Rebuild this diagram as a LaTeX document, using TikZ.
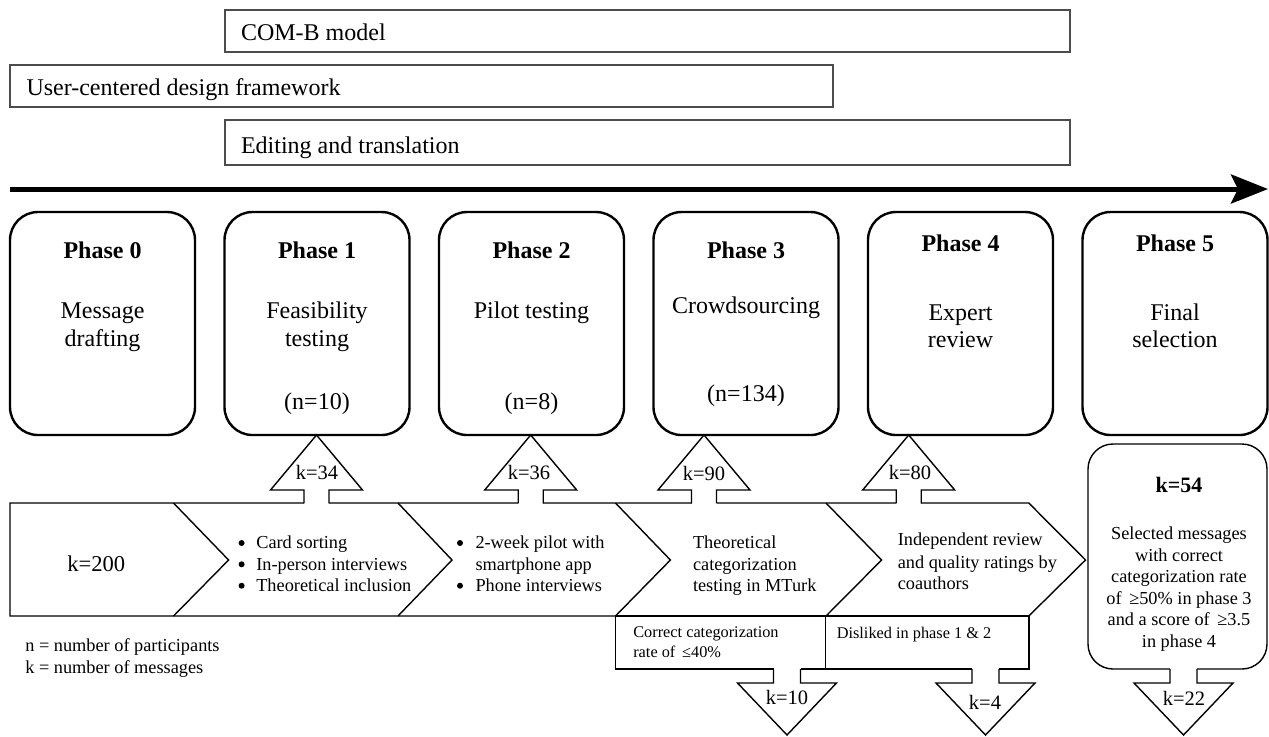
\documentclass[tikz,border=0pt]{standalone}
\usepackage{fontspec}
\setmainfont{Liberation Serif}
\usetikzlibrary{arrows.meta}
\begin{document}
\begin{tikzpicture}[x=0.5pt,y=-0.5pt,
  bar/.style={draw=black!70,line width=0.8pt},
  phasebox/.style={draw=black,line width=1.2pt,rounded corners=14pt},
  shapeline/.style={draw=black,line width=0.7pt},
  txt/.style={inner sep=0pt,outer sep=0pt},
  bul/.style={circle,fill=black,inner sep=0pt,minimum size=3pt},
  fbig/.style={font=\fontsize{12}{14}\selectfont},
  fbold/.style={font=\fontsize{12}{14}\selectfont\bfseries},
  fkbig/.style={font=\fontsize{11.3}{13}\selectfont},
  fkbold/.style={font=\fontsize{11}{13}\selectfont\bfseries},
  fmid/.style={font=\fontsize{9.15}{11}\selectfont},
  fk/.style={font=\fontsize{10.25}{12}\selectfont},
  fsmall/.style={font=\fontsize{8.15}{10}\selectfont},
]
\useasboundingbox (0,0) rectangle (1269,736);

% ---------- top bars ----------
\draw[bar] (225,10) rectangle (1070,52);
\node[txt,fbig,anchor=base west] (comb) at (241,40) {COM-B model};
\draw[bar] (10,65) rectangle (833,107);
\node[txt,fbig,anchor=base west] (ucd) at (26.5,95) {User-centered design framework};
\draw[bar] (225,120) rectangle (1070,165);
\node[txt,fbig,anchor=base west] (edit) at (241,153) {Editing and translation};

% ---------- time arrow ----------
\coordinate (ta) at (10,189);
\coordinate (tb) at (1268,189);
\draw[line width=2.5pt,-{Stealth[length=18.5pt,width=14.5pt,inset=3.5pt]}] (ta) -- (tb);

% ---------- phase boxes ----------
\foreach \l in {10,224.5,439,653.5,868,1082.5}
  \draw[phasebox] (\l,212) rectangle ++(185,223);

\node[txt,fbold,anchor=base] (p0t) at (102.5,258) {Phase 0};
\node[txt,fbig,anchor=base] (p0a) at (102.5,318) {Message};
\node[txt,fbig,anchor=base] (p0b) at (102.5,346.5) {drafting};

\node[txt,fbold,anchor=base] (p1t) at (317,258) {Phase 1};
\node[txt,fbig,anchor=base] (p1a) at (317,318) {Feasibility};
\node[txt,fbig,anchor=base] (p1b) at (317,346.5) {testing};
\node[txt,fbig,anchor=base] (p1n) at (317,409) {(n=10)};

\node[txt,fbold,anchor=base] (p2t) at (531.5,258) {Phase 2};
\node[txt,fbig,anchor=base] (p2a) at (531.5,318) {Pilot testing};
\node[txt,fbig,anchor=base] (p2n) at (531.5,409) {(n=8)};

\node[txt,fbold,anchor=base] (p3t) at (746,258) {Phase 3};
\node[txt,fbig,anchor=base] (p3a) at (746,313) {Crowdsourcing};
\node[txt,fbig,anchor=base] (p3n) at (746,401) {(n=134)};

\node[txt,fbold,anchor=base] (p4t) at (960.5,251.5) {Phase 4};
\node[txt,fbig,anchor=base] (p4a) at (960.5,320) {Expert};
\node[txt,fbig,anchor=base] (p4b) at (960.5,347.5) {review};

\node[txt,fbold,anchor=base] (p5t) at (1175,251.5) {Phase 5};
\node[txt,fbig,anchor=base] (p5a) at (1175,320) {Final};
\node[txt,fbig,anchor=base] (p5b) at (1175,347.5) {selection};

% ---------- chevron band ----------
\draw[shapeline,fill=white] (10,503) -- (1028.8,503) -- (1085.5,560) -- (1028.8,616) -- (10,616) -- cycle;
\foreach \a/\b in {173.5/228.6,398/452,615.5/670.4,826/881.6}
  \draw[shapeline] (\a,503) -- (\b,560) -- (\a,616);

% ---------- bottom boxes ----------
\draw[shapeline] (615.5,616) rectangle (825.7,669);
\draw[shapeline] (825.7,616) rectangle (1028.8,669);
\draw[shapeline,rounded corners=12.5pt] (1088,444) rectangle (1267,669);

% ---------- up arrows ----------
\foreach \cx in {316.5,530.7,704,908.7}{
  \fill[white] (\cx-12.5,489) rectangle (\cx+12.5,505);
  \draw[shapeline] (\cx-12.5,503.3) -- (\cx-12.5,490) -- (\cx-46,490) -- (\cx,435)
     -- (\cx+46,490) -- (\cx+12.5,490) -- (\cx+12.5,503.3);
}
% ---------- down arrows ----------
\foreach \cx in {787,985.5,1183.5}{
  \fill[white] (\cx-13.5,667) rectangle (\cx+13.5,683);
  \draw[shapeline] (\cx-13.5,669) -- (\cx-13.5,683) -- (\cx-49.5,683) -- (\cx,735)
     -- (\cx+49.5,683) -- (\cx+13.5,683) -- (\cx+13.5,669);
}

% ---------- arrow labels ----------
\node[txt,fk,anchor=base] (k34) at (317,479) {k=34};
\node[txt,fk,anchor=base] (k36) at (529,479) {k=36};
\node[txt,fk,anchor=base] (k90) at (704,480) {k=90};
\node[txt,fk,anchor=base] (k80) at (910,479) {k=80};
\node[txt,fk,anchor=base] (k10) at (787,704) {k=10};
\node[txt,fk,anchor=base] (k4) at (985,709) {k=4};
\node[txt,fk,anchor=base] (k22) at (1184,705) {k=22};

% ---------- chevron texts ----------
\node[txt,fkbig,anchor=base] (k200) at (96.3,571) {k=200};

\node[bul] (b1a) at (241.6,543) {};
\node[txt,fmid,anchor=base west] (t1a) at (256.3,548.7) {Card sorting};
\node[bul] (b1b) at (241.6,564.3) {};
\node[txt,fmid,anchor=base west] (t1b) at (256.3,570) {In-person interviews};
\node[bul] (b1c) at (241.6,585.7) {};
\node[txt,fmid,anchor=base west] (t1c) at (256.3,591.4) {Theoretical inclusion};

\node[bul] (b2a) at (460,543) {};
\node[txt,fmid,anchor=base west] (t2a) at (475.5,548.7) {2-week pilot with};
\node[txt,fmid,anchor=base west] (t2b) at (475.5,570) {smartphone app};
\node[bul] (b2c) at (460,585.7) {};
\node[txt,fmid,anchor=base west] (t2c) at (475.5,591.4) {Phone interviews};

\node[txt,fmid,anchor=base west] (t3a) at (693,548) {Theoretical};
\node[txt,fmid,anchor=base west] (t3b) at (693,570.4) {categorization};
\node[txt,fmid,anchor=base west] (t3c) at (693,591.4) {testing in MTurk};

\node[txt,fmid,anchor=base west] (t4a) at (897.8,545.7) {Independent review};
\node[txt,fmid,anchor=base west] (t4b) at (897.8,568) {and quality ratings by};
\node[txt,fmid,anchor=base west] (t4c) at (897.8,589.7) {coauthors};

% ---------- bottom box texts ----------
\node[txt,fsmall,anchor=base west] (c1a) at (633.3,637.4) {Correct categorization};
\node[txt,fsmall,anchor=base west] (c1b) at (633.3,657.4) {rate of \,≤40\%};
\node[txt,fsmall,anchor=base west] (c2a) at (836.8,638) {Disliked in phase 1 \& 2};

% ---------- final box ----------
\node[txt,fkbold,anchor=base] (k54) at (1179,492) {k=54};
\node[txt,fmid,anchor=base] (s1) at (1179,539.5) {Selected messages};
\node[txt,fmid,anchor=base] (s2) at (1179,561) {with correct};
\node[txt,fmid,anchor=base] (s3) at (1179,582.5) {categorization rate};
\node[txt,fmid,anchor=base] (s4) at (1179,604) {of \,≥50\% in phase 3};
\node[txt,fmid,anchor=base] (s5) at (1179,625.5) {and a score of \,≥3.5};
\node[txt,fmid,anchor=base] (s6) at (1179,647) {in phase 4};

% ---------- legend ----------
\node[txt,fmid,anchor=base west] (lg1) at (25.3,651.4) {n = number of participants};
\node[txt,fmid,anchor=base west] (lg2) at (25.3,673) {k = number of messages};
\end{tikzpicture}
\end{document}
